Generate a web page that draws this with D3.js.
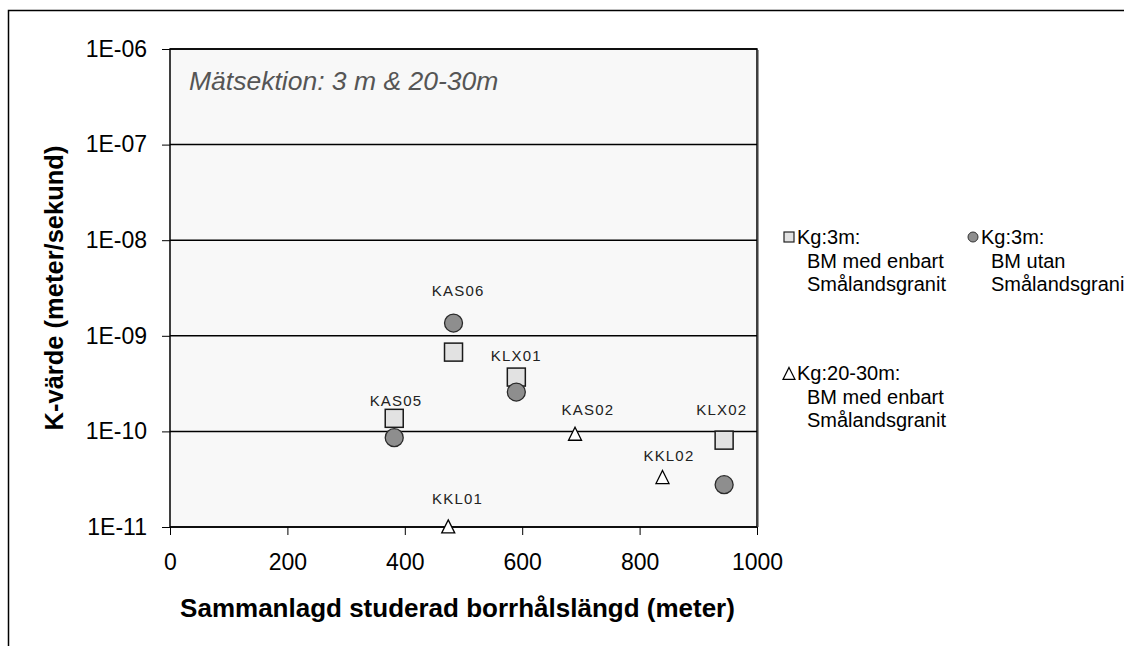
<!DOCTYPE html>
<html><head><meta charset="utf-8">
<script src="https://cdn.jsdelivr.net/npm/d3@7/dist/d3.min.js"></script>
<style>body{margin:0;background:#fff}svg{display:block}text{font-family:"Liberation Sans",Arial,sans-serif}</style>
</head><body><svg id="c" width="1124" height="646"></svg>
<script>
// Data
const xTicks = [0, 200, 400, 600, 800, 1000];
const yTicks = [1e-11, 1e-10, 1e-9, 1e-8, 1e-7, 1e-6];
const yTickLabels = ["1E-11", "1E-10", "1E-09", "1E-08", "1E-07", "1E-06"];
const boreholes = ["KAS05", "KAS06", "KLX01", "KLX02"];
const sqX = [382, 483, 590, 944];
const sqK = [1.37e-10, 6.75e-10, 3.7e-10, 8.1e-11];
const ciX = [382, 483, 590, 944];
const ciK = [8.6e-11, 1.36e-9, 2.58e-10, 2.77e-11];
const triNames = ["KKL01", "KAS02", "KKL02"];
const triX = [474, 690, 839];
const triK = [1.0e-11, 9.3e-11, 3.28e-11];
// label anchor points (data coordinates)
const labelNames = ["KAS06", "KLX01", "KAS05", "KAS02", "KLX02", "KKL02", "KKL01"];
const labelX = [491, 590, 385, 712, 940, 850, 490];
const labelK = [2.6e-9, 5.4e-10, 1.85e-10, 1.48e-10, 1.48e-10, 4.9e-11, 1.75e-11];
const legendItems = [
  {shape:"square", lines:["Kg:3m:", "BM med enbart", "Smålandsgranit"]},
  {shape:"circle", lines:["Kg:3m:", "BM utan", "Smålandsgranit"]},
  {shape:"triangle", lines:["Kg:20-30m:", "BM med enbart", "Smålandsgranit"]}
];
const titleText = "Mätsektion: 3 m & 20-30m";

const svg = d3.select("#c");
const L = 170, R = 757, T = 49, B = 527;
const x = d3.scaleLinear().domain([0, 1000]).range([L, R]);
const y = d3.scaleLog().domain([1e-11, 1e-6]).range([B, T]);
const FONT = '"Liberation Sans",Arial,sans-serif';

// outer frame
svg.append("path").attr("d", "M8.5,646 L8.5,10.5 L1124,10.5").attr("fill","none").attr("stroke","#000").attr("stroke-width",1.5);

// plot background
svg.append("rect").attr("x", L).attr("y", T).attr("width", R-L).attr("height", B-T).attr("fill", "#f8f8f8");

// grid lines
svg.append("g").selectAll("line").data(yTicks).join("line")
  .attr("x1", L).attr("x2", R).attr("y1", d=>y(d)).attr("y2", d=>y(d))
  .attr("stroke", "#000").attr("stroke-width", 1.5);

// plot border
svg.append("rect").attr("x", L).attr("y", T).attr("width", R-L).attr("height", B-T)
  .attr("fill", "none").attr("stroke", "#000").attr("stroke-width", 1.5);
svg.append("line").attr("x1", R+1.5).attr("x2", R+1.5).attr("y1", T+1).attr("y2", B).attr("stroke","#999").attr("stroke-width",1);

// axes
const yAxis = d3.axisLeft(y).tickValues(yTicks).tickFormat((d,i)=>yTickLabels[i]).tickSize(8).tickPadding(15);
const gy = svg.append("g").attr("transform", `translate(${L},0)`).call(yAxis);
gy.attr("font-size", null).attr("font-family", null);
gy.select(".domain").remove();
gy.selectAll("line").attr("stroke", "#000");
gy.selectAll("text").attr("font-size", 23).attr("fill", "#000").attr("font-family", FONT);

const xAxis = d3.axisBottom(x).tickValues(xTicks).tickFormat(d3.format("d")).tickSize(8).tickPadding(19);
const gx = svg.append("g").attr("transform", `translate(0,${B})`).call(xAxis);
gx.attr("font-size", null).attr("font-family", null);
gx.select(".domain").remove();
gx.selectAll("line").attr("stroke", "#000");
gx.selectAll("text").attr("font-size", 23).attr("fill", "#000").attr("font-family", FONT);

// axis titles
svg.append("text").attr("x", (L+R)/2 - 6).attr("y", 617).attr("text-anchor", "middle")
  .attr("font-size", 26).attr("font-weight", "bold").text("Sammanlagd studerad borrhålslängd (meter)");
svg.append("text").attr("transform", `translate(63,${(T+B)/2}) rotate(-90)`).attr("text-anchor", "middle")
  .attr("font-size", 25.5).attr("font-weight", "bold").text("K-värde (meter/sekund)");

// title
svg.append("text").attr("x", 189).attr("y", 90).attr("font-size", 26.5).attr("font-style", "italic")
  .attr("fill", "#555").text(titleText);

// markers
const sqS = 18, ciR = 9;
svg.append("g").selectAll("rect").data(sqX.map((d,i)=>({x:d,k:sqK[i]}))).join("rect")
  .attr("x", d=>x(d.x)-sqS/2).attr("y", d=>y(d.k)-sqS/2).attr("width", sqS).attr("height", sqS)
  .attr("fill", "#e2e2e2").attr("stroke", "#1a1a1a").attr("stroke-width", 1.5);
svg.append("g").selectAll("circle").data(ciX.map((d,i)=>({x:d,k:ciK[i]}))).join("circle")
  .attr("cx", d=>x(d.x)).attr("cy", d=>y(d.k)).attr("r", ciR)
  .attr("fill", "#8e8e8e").attr("stroke", "#2a2a2a").attr("stroke-width", 1.3);
const tri = (cx, cy, s) => `M${cx},${cy-s*0.55} L${cx+s/2},${cy+s*0.45} L${cx-s/2},${cy+s*0.45} Z`;
svg.append("g").selectAll("path").data(triX.map((d,i)=>({x:d,k:triK[i]}))).join("path")
  .attr("d", d=>tri(x(d.x), y(d.k), 13))
  .attr("fill", "#fff").attr("stroke", "#000").attr("stroke-width", 1.3);

// point labels
svg.append("g").selectAll("text").data(labelNames.map((n,i)=>({n, x:labelX[i], k:labelK[i]}))).join("text")
  .attr("x", d=>x(d.x)).attr("y", d=>y(d.k)).attr("text-anchor", "middle")
  .attr("font-size", 15).attr("letter-spacing", 1.2)
  .attr("fill", "#222").text(d=>d.n);

// legend
const legPos = [[789, 237], [973, 237], [789, 373]];
legendItems.forEach((it, i) => {
  const [lx, ly] = legPos[i];
  const g = svg.append("g");
  if (it.shape === "square") g.append("rect").attr("x", lx-5).attr("y", ly-5).attr("width", 10).attr("height", 10).attr("fill", "#e2e2e2").attr("stroke", "#222").attr("stroke-width", 1.2);
  if (it.shape === "circle") g.append("circle").attr("cx", lx).attr("cy", ly).attr("r", 5).attr("fill", "#8e8e8e").attr("stroke", "#333").attr("stroke-width", 1);
  if (it.shape === "triangle") g.append("path").attr("d", tri(lx, ly+1, 12)).attr("fill", "#fff").attr("stroke", "#000").attr("stroke-width", 1.2);
  it.lines.forEach((t, j) => {
    g.append("text").attr("x", lx + 8 + (j>0 ? 10 : 0)).attr("y", ly + 7 + j*23.5).attr("font-size", 20).attr("fill", "#000").text(t);
  });
});
</script></body></html>
